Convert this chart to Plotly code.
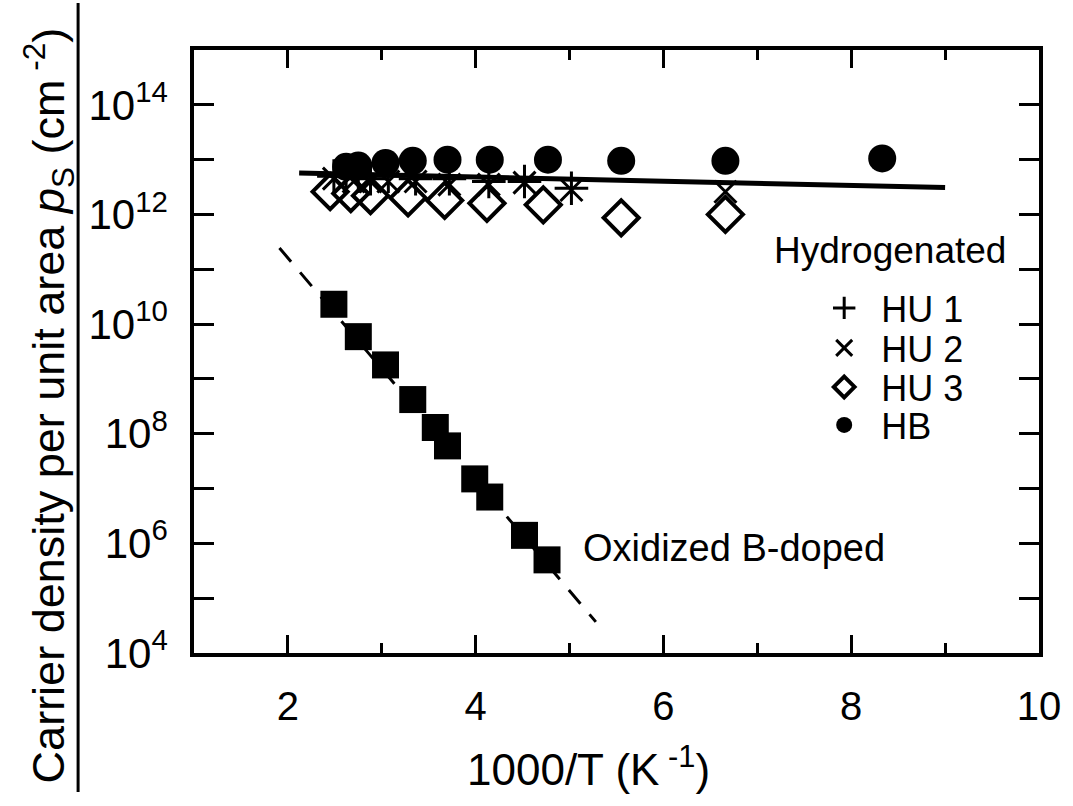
import plotly.graph_objects as go

# ---------------- data ----------------
# Oxidized B-doped (filled squares)
ox_x = [2.49, 2.75, 3.04, 3.33, 3.57, 3.70, 3.99, 4.15, 4.52, 4.76]
ox_y = [2.3e10, 5.9e9, 1.8e9, 4.2e8, 1.3e8, 6.0e7, 1.5e7, 7.0e6, 1.4e6, 5.0e5]
# dashed guide line through the oxidized sample
ox_fit_x = [1.91, 5.28]
ox_fit_y = [2.45e11, 3.7e4]

# Hydrogenated samples
hu1_x = [2.49, 2.62, 2.75, 2.88, 3.07, 3.36, 3.72, 4.14, 4.52, 5.02]
hu1_y = [5.0e12, 5.0e12, 5.0e12, 4.5e12, 5.0e12, 4.5e12, 4.5e12, 4.0e12, 4.0e12, 3.0e12]
hu2_x = [2.49, 2.70, 2.88, 3.07, 3.36, 3.72, 4.14, 4.52, 5.02, 6.66]
hu2_y = [4.5e12, 4.0e12, 4.0e12, 4.0e12, 4.0e12, 3.5e12, 3.5e12, 3.8e12, 2.8e12, 2.6e12]
hu3_x = [2.45, 2.67, 2.88, 3.28, 3.67, 4.12, 4.72, 5.55, 6.66]
hu3_y = [2.6e12, 2.4e12, 2.2e12, 2.0e12, 1.8e12, 1.6e12, 1.5e12, 8.7e11, 1.0e12]
hb_x = [2.62, 2.75, 3.04, 3.33, 3.70, 4.15, 4.77, 5.55, 6.66, 8.33]
hb_y = [7.4e12, 7.8e12, 8.7e12, 9.5e12, 1.0e13, 1.0e13, 1.0e13, 9.5e12, 9.5e12, 1.05e13]
# solid guide line through the hydrogenated samples
h_fit_x = [2.12, 9.0]
h_fit_y = [5.7e12, 3.1e12]

# axis ticks
x_tickvals = [2, 4, 6, 8, 10]
y_major_exponents = [4, 6, 8, 10, 12, 14]
y_minor_exponents = [5, 7, 9, 11, 13]

# legend labels
key_labels = ["HU 1", "HU 2", "HU 3", "HB"]

FONT = "Liberation Sans, Arial, Helvetica, sans-serif"
BLACK = "black"

L, R, T, B = 194, 26, 50, 153
W, H = 1073, 806
pw, ph = W - L - R, H - T - B


def px_to_paper_x(px):
    return (px - L) / pw


def px_to_paper_y(py):
    return (H - B - py) / ph


fig = go.Figure()

fig.add_trace(go.Scatter(x=ox_fit_x, y=ox_fit_y, mode="lines",
                         line=dict(color=BLACK, width=3, dash="18px,14px"),
                         showlegend=False, hoverinfo="skip"))
fig.add_trace(go.Scatter(x=h_fit_x, y=h_fit_y, mode="lines",
                         line=dict(color=BLACK, width=5),
                         showlegend=False, hoverinfo="skip"))

fig.add_trace(go.Scatter(x=ox_x, y=ox_y, mode="markers", name="Oxidized B-doped",
                         marker=dict(symbol="square", size=27, color=BLACK),
                         showlegend=False))
fig.add_trace(go.Scatter(x=hu1_x, y=hu1_y, mode="markers", name=key_labels[0],
                         legend="legend",
                         marker=dict(symbol="cross-thin", size=24,
                                     line=dict(color=BLACK, width=3))))
fig.add_trace(go.Scatter(x=hu2_x, y=hu2_y, mode="markers", name=key_labels[1],
                         legend="legend2",
                         marker=dict(symbol="x-thin", size=22,
                                     line=dict(color=BLACK, width=3))))
fig.add_trace(go.Scatter(x=hu3_x, y=hu3_y, mode="markers", name=key_labels[2],
                         legend="legend3",
                         marker=dict(symbol="diamond-open", size=27, color=BLACK,
                                     line=dict(color=BLACK, width=4))))
fig.add_trace(go.Scatter(x=hb_x, y=hb_y, mode="markers", name=key_labels[3],
                         legend="legend4",
                         marker=dict(symbol="circle", size=28, color=BLACK)))

y_tickvals = [10 ** e for e in y_major_exponents]
y_ticktext = [f"10<sup>{e}</sup>" for e in y_major_exponents]
y_minorvals = [10 ** e for e in y_minor_exponents]


def legend_box(py):
    return dict(x=px_to_paper_x(813), y=px_to_paper_y(py), xanchor="left",
                yanchor="middle", bgcolor="rgba(0,0,0,0)", borderwidth=0,
                itemwidth=64, itemsizing="trace",
                font=dict(size=36, family=FONT, color=BLACK))


key_y = [308, 348, 387, 425]

fig.update_layout(
    width=W, height=H,
    margin=dict(l=L, r=R, t=T, b=B),
    paper_bgcolor="white", plot_bgcolor="white",
    font=dict(family=FONT, color=BLACK, size=36),
    showlegend=True,
    legend=legend_box(key_y[0]),
    legend2=legend_box(key_y[1]),
    legend3=legend_box(key_y[2]),
    legend4=legend_box(key_y[3]),
    xaxis=dict(range=[1, 10], tickmode="array", tickvals=x_tickvals,
               ticks="inside", ticklen=18, tickwidth=3, tickcolor=BLACK,
               showline=True, linewidth=3.5, linecolor=BLACK, mirror="ticks",
               showgrid=False, zeroline=False,
               tickfont=dict(size=40, family=FONT), ticklabelstandoff=15,
               minor=dict(dtick=1, tick0=1, ticks="inside", ticklen=10,
                          tickwidth=3, tickcolor=BLACK, showgrid=False)),
    yaxis=dict(type="log", range=[4, 15], tickmode="array",
               tickvals=y_tickvals, ticktext=y_ticktext,
               ticks="inside", ticklen=20, tickwidth=3, tickcolor=BLACK,
               showline=True, linewidth=3.5, linecolor=BLACK, mirror="ticks",
               showgrid=False, zeroline=False,
               tickfont=dict(size=42, family=FONT), ticklabelstandoff=14,
               minor=dict(tickmode="array", tickvals=y_minorvals, ticks="inside",
                          ticklen=20, tickwidth=3, tickcolor=BLACK, showgrid=False)),
)


def ann(text, px, py, size, xanchor="center", angle=0):
    return dict(text=text, x=px_to_paper_x(px), y=px_to_paper_y(py),
                xref="paper", yref="paper", xanchor=xanchor, yanchor="middle",
                showarrow=False, textangle=angle,
                font=dict(size=size, family=FONT, color=BLACK))


annotations = [
    ann("1000/T (K<sup> -1</sup>)", 592, 766, 44),
    ann("Carrier density per unit area <i>p</i><sub>S</sub> (cm<sup> -2</sup>)",
        47, 405, 45, angle=-90),
    ann("Hydrogenated", 897, 250, 37),
    ann("Oxidized B-doped", 585, 548, 38, xanchor="left"),
]
fig.update_layout(annotations=annotations)

fig.add_shape(type="line", xref="paper", yref="paper",
              x0=px_to_paper_x(77), x1=px_to_paper_x(77),
              y0=px_to_paper_y(3), y1=px_to_paper_y(792),
              line=dict(color=BLACK, width=3))

fig.write_html("out.html")
